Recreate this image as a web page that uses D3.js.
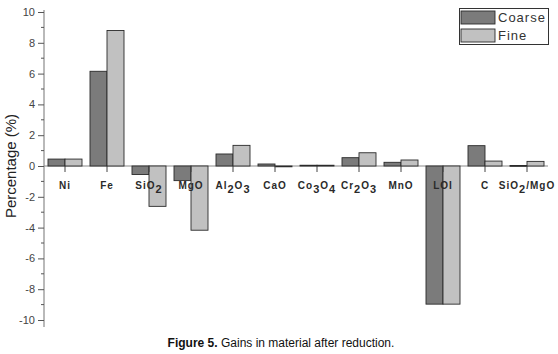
<!DOCTYPE html>
<html>
<head>
<meta charset="utf-8">
<script src="https://cdn.jsdelivr.net/npm/d3@7"></script>
<style>
body{margin:0;background:#fff;}
svg{display:block;font-family:"Liberation Sans",Arial,sans-serif;}
</style>
</head>
<body>
<script>
var w = 558, h = 354;

// categories (digits are drawn as subscripts)
var categories = ["Ni","Fe","SiO2","MgO","Al2O3","CaO","Co3O4","Cr2O3","MnO","LOI","C","SiO2/MgO"];
var coarse = [0.45, 6.15, -0.55, -0.95, 0.78, 0.13, 0.05, 0.54, 0.24, -8.97, 1.32, 0.03];
var fine   = [0.45, 8.8, -2.62, -4.17, 1.34, -0.02, 0.05, 0.86, 0.39, -8.97, 0.32, 0.3];
var series = ["Coarse","Fine"];
var colors = ["#7b7b7b","#c1c1c1"];
var yMajor = [-10,-8,-6,-4,-2,0,2,4,6,8,10];
var yMinor = [-9,-7,-5,-3,-1,1,3,5,7,9];

var svg = d3.select("body").append("svg").attr("width",w).attr("height",h);

var left = 44, right = 548;
var x = d3.scaleBand().domain(categories).range([left,right]).padding(0);
var y = d3.scaleLinear().domain([-10,10]).range([320,12]);
var bw = 17;

var data = [];
categories.forEach(function(c,i){
    data.push({cat:c, s:0, v:coarse[i]});
    data.push({cat:c, s:1, v:fine[i]});
});

// zero line
svg.append("line")
    .attr("x1",left).attr("x2",right)
    .attr("y1",y(0)).attr("y2",y(0))
    .attr("stroke","#8a8a8a").attr("stroke-width",1);

// bars
svg.selectAll("rect.bar").data(data).enter().append("rect")
    .attr("class","bar")
    .attr("x",function(d){ return x(d.cat)+x.bandwidth()/2 + (d.s==0 ? -bw : 0); })
    .attr("y",function(d){ return Math.min(y(d.v),y(0)); })
    .attr("width",bw)
    .attr("height",function(d){ return Math.max(Math.abs(y(d.v)-y(0)),0.8); })
    .attr("fill",function(d){ return colors[d.s]; })
    .attr("stroke","#2a2a2a").attr("stroke-width",0.9);

// category ticks
svg.selectAll("line.xt").data(categories).enter().append("line")
    .attr("class","xt")
    .attr("x1",function(d){ return x(d)+x.bandwidth()/2; })
    .attr("x2",function(d){ return x(d)+x.bandwidth()/2; })
    .attr("y1",y(0)).attr("y2",y(0)+6)
    .attr("stroke","#444").attr("stroke-width",1);

// y axis
var yAxis = d3.axisLeft(y).tickValues(yMajor).tickSize(6).tickPadding(3)
    .tickFormat(function(d){ return d<0 ? "-"+Math.abs(d) : d; });
var ga = svg.append("g").attr("transform","translate("+left+",0)").call(yAxis);
ga.select(".domain").attr("d","M0,10V327").attr("stroke","#8a8a8a").attr("stroke-width",1.2);
ga.selectAll(".tick line").attr("stroke","#555");
ga.selectAll(".tick text").attr("font-size",11).attr("fill","#444")
    .attr("font-family","\"Liberation Sans\",Arial,sans-serif");
svg.append("g").selectAll("line").data(yMinor).enter().append("line")
    .attr("x1",left-3).attr("x2",left)
    .attr("y1",function(d){ return y(d); }).attr("y2",function(d){ return y(d); })
    .attr("stroke","#555");

// category labels with subscripts
var lab = svg.selectAll("text.xl").data(categories).enter().append("text")
    .attr("class","xl")
    .attr("x",function(d){ return x(d)+x.bandwidth()/2; })
    .attr("y",189)
    .attr("text-anchor","middle")
    .attr("font-size",10).attr("font-weight","bold")
    .attr("letter-spacing",1)
    .attr("fill","#2a2a2a");
lab.each(function(d){
    var t = d3.select(this);
    var parts = d.match(/(\d+|\D+)/g);
    var sub = false;
    parts.forEach(function(p){
        if(/\d/.test(p)){
            t.append("tspan").attr("dy",4).attr("font-size",11).text(p);
            sub = true;
        } else {
            t.append("tspan").attr("dy",sub ? -4 : 0).text(p);
            sub = false;
        }
    });
});

// y title
svg.append("text")
    .attr("transform","translate(16,166) rotate(-90)")
    .attr("text-anchor","middle")
    .attr("font-size",15)
    .attr("fill","#222")
    .text("Percentage (%)");

// legend
var lg = svg.append("g");
lg.append("rect").attr("x",459.5).attr("y",8.5).attr("width",89).attr("height",36)
    .attr("fill","#fff").attr("stroke","#333").attr("stroke-width",1);
series.forEach(function(s,i){
    lg.append("rect").attr("x",461).attr("y",11+i*18).attr("width",34).attr("height",13)
        .attr("fill",colors[i]).attr("stroke","#2a2a2a").attr("stroke-width",0.9);
    lg.append("text").attr("x",498).attr("y",22+i*18)
        .attr("font-size",13).attr("letter-spacing",1).attr("fill","#333").text(s);
});

// caption
var cap = svg.append("text").attr("x",281).attr("y",347)
    .attr("text-anchor","middle").attr("font-size",12).attr("fill","#111");
cap.append("tspan").attr("font-weight","bold").text("Figure 5.");
cap.append("tspan").text(" Gains in material after reduction.");
</script>
</body>
</html>
